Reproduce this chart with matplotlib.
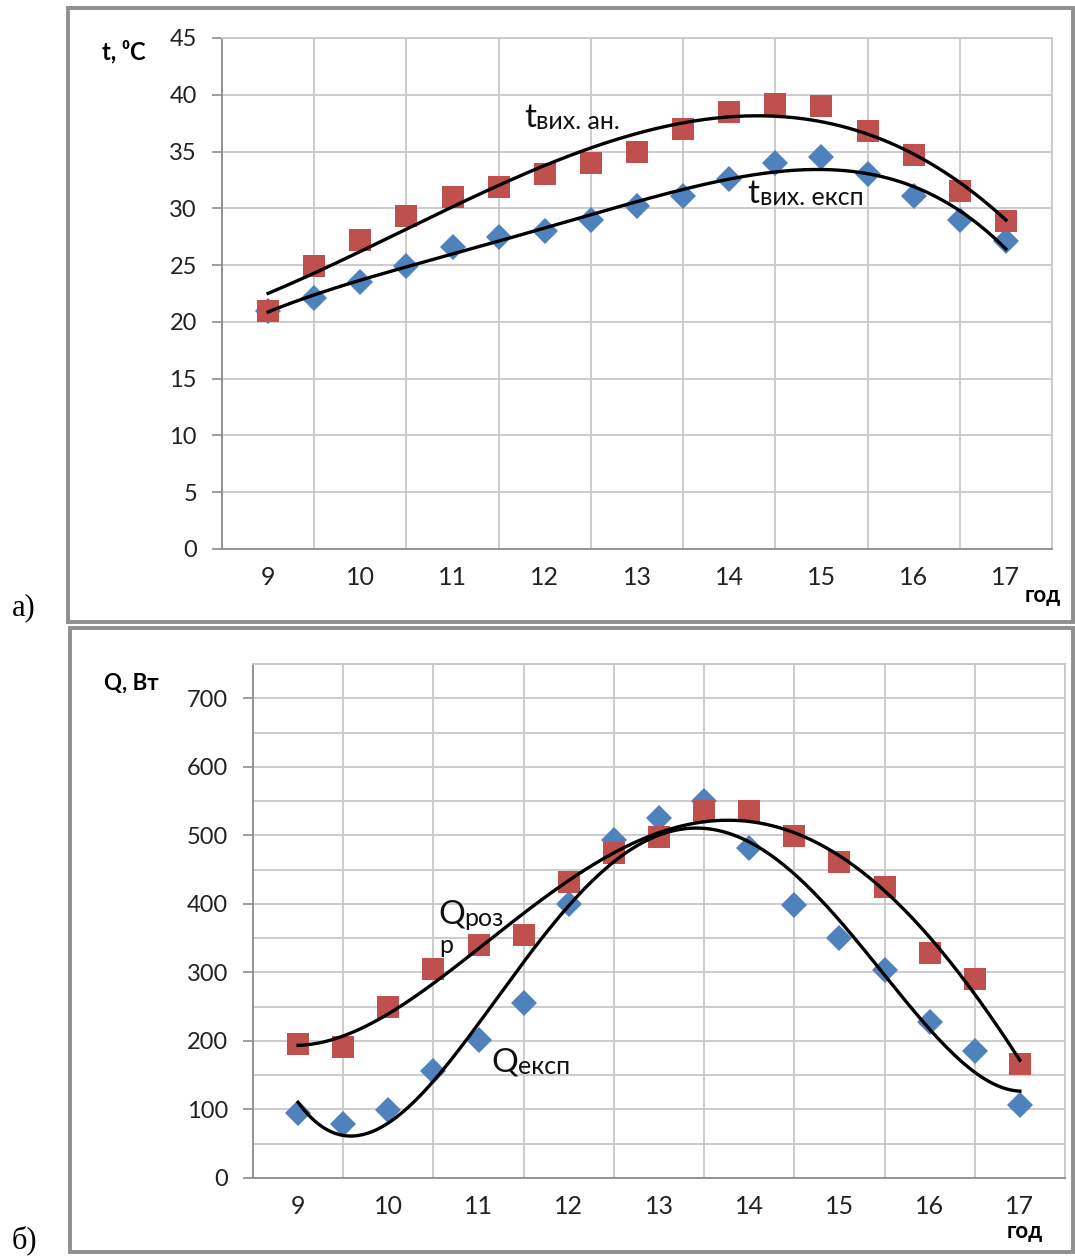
import numpy as np
import matplotlib.pyplot as plt
from matplotlib.patches import Rectangle
from matplotlib.ticker import MultipleLocator

# hours of the day, every half hour
hours = np.arange(9, 17.01, 0.5)
hour_labels = ['9', '10', '11', '12', '13', '14', '15', '16', '17']

# a) outlet temperature, analytic and experimental
t_an = [21.0, 24.9, 27.2, 29.3, 31.0, 31.9, 33.0, 34.0, 35.0,
        37.0, 38.5, 39.2, 39.0, 36.8, 34.7, 31.5, 28.9]
t_exp = [21.0, 22.1, 23.5, 24.9, 26.6, 27.5, 28.0, 29.0, 30.2,
         31.1, 32.6, 34.0, 34.5, 33.0, 31.1, 29.0, 27.1]

# б) heat output, calculated and experimental
q_rozr = [196, 191, 250, 305, 340, 355, 432, 474, 498,
          536, 536, 499, 461, 424, 328, 290, 167]
q_exp = [95, 79, 99, 156, 201, 256, 400, 493, 526,
         550, 481, 398, 350, 304, 228, 186, 106]

RED = '#C0504D'
BLUE = '#4F81BD'
W, H = 1075, 1256
SANS = ['Lato', 'DejaVu Sans']

plt.rcParams['font.family'] = SANS

fig = plt.figure(figsize=(W / 100, H / 100), dpi=100)


def px_rect(x0, y0, x1, y1):
    return [x0 / W, 1 - y1 / H, (x1 - x0) / W, (y1 - y0) / H]


def trend(x, y, deg):
    # polynomial trend line like the spreadsheet one
    xc = np.asarray(x) - 13
    p = np.polyfit(xc, y, deg)
    xs = np.linspace(x[0], x[-1], 300)
    return xs, np.polyval(p, xs - 13)


def style_axes(ax, ylim, ymajor, yminor=None):
    ax.set_xlim(8.5, 17.5)
    ax.set_ylim(*ylim)
    ax.set_xticks(range(9, 18))
    ax.set_xticklabels(hour_labels)
    ax.xaxis.set_minor_locator(MultipleLocator(0.5))
    ax.yaxis.set_major_locator(MultipleLocator(ymajor))
    if yminor:
        ax.yaxis.set_minor_locator(MultipleLocator(yminor))
        ax.grid(which='minor', axis='y', color='#c8c8c8', lw=1.3)
    ax.grid(which='minor', axis='x', color='#c8c8c8', lw=1.3)
    ax.grid(which='major', axis='y', color='#c8c8c8', lw=1.3)
    ax.set_axisbelow(True)
    ax.tick_params(axis='x', which='both', length=0, labelsize=18, pad=12, colors='#222222')
    ax.tick_params(axis='y', which='major', length=7, width=1.2, color='#8c8c8c',
                   labelsize=17, pad=11, labelcolor='#222222')
    ax.tick_params(axis='y', which='minor', length=0)
    for s in ax.spines.values():
        s.set_color('#c8c8c8')
        s.set_linewidth(1.3)
    ax.spines['left'].set_color('#8c8c8c')
    ax.spines['bottom'].set_color('#8c8c8c')


def sub_label(ax, x, y, big, small, bsize, ssize):
    t = ax.text(x, y, big, fontsize=bsize, va='bottom', ha='left', color='#111111')
    ax.annotate(small, xy=(1, 0), xycoords=t, va='bottom', ha='left',
                fontsize=ssize, color='#111111')


# frames round the two panels
for r in [(68, 8, 1073, 622), (70, 628, 1073, 1252)]:
    fig.add_artist(Rectangle((r[0] / W, 1 - r[3] / H), (r[2] - r[0]) / W, (r[3] - r[1]) / H,
                             transform=fig.transFigure, fill=False, ec='#8f8f8f', lw=2.8))

# ---- a) temperature ----
ax1 = fig.add_axes(px_rect(222, 38, 1052, 549))
style_axes(ax1, (0, 45), 5)
xs, ys = trend(hours, t_an, 3)
ax1.plot(xs, ys, color='black', lw=2.4, zorder=4)
xs, ys = trend(hours, t_exp, 4)
ax1.plot(xs, ys, color='black', lw=2.4, zorder=4)
ax1.plot(hours, t_exp, 'D', color=BLUE, ms=13, mew=0, zorder=3)
ax1.plot(hours, t_an, 's', color=RED, ms=16, mew=0, zorder=3)
sub_label(ax1, 11.78, 36.6, 't', 'вих. ан.', 24, 18)
sub_label(ax1, 14.2, 29.9, 't', 'вих. експ', 24, 18)

fig.text(102 / W, 1 - 52 / H, 't, ⁰C', fontsize=17, fontweight='bold', va='center', ha='left')
fig.text(1043 / W, 1 - 596 / H, 'год', fontsize=16, fontweight='bold', va='center', ha='center')
fig.text(12 / W, 1 - 608 / H, 'а)', fontsize=22, family='Liberation Serif', va='center', ha='left')

# ---- б) heat ----
ax2 = fig.add_axes(px_rect(253, 664, 1065, 1178))
style_axes(ax2, (0, 750), 100, 50)
ax2.set_yticks(range(0, 701, 100))
xs, ys = trend(hours, q_rozr, 4)
ax2.plot(xs, ys, color='black', lw=2.4, zorder=4)
xs, ys = trend(hours, q_exp, 4)
ax2.plot(xs, ys, color='black', lw=2.4, zorder=4)
ax2.plot(hours, q_exp, 'D', color=BLUE, ms=13, mew=0, zorder=3)
ax2.plot(hours, q_rozr, 's', color=RED, ms=16, mew=0, zorder=3)
sub_label(ax2, 10.55, 362, 'Q', 'роз', 24, 18)
ax2.text(10.56, 328, 'р', fontsize=18, va='baseline', ha='left', color='#111111')
sub_label(ax2, 11.14, 146, 'Q', 'експ', 24, 18)

fig.text(104 / W, 1 - 683 / H, 'Q, Вт', fontsize=16, fontweight='bold', va='center', ha='left')
fig.text(1025 / W, 1 - 1232 / H, 'год', fontsize=16, fontweight='bold', va='center', ha='center')
fig.text(12 / W, 1 - 1240 / H, 'б)', fontsize=22, family='Liberation Serif', va='center', ha='left')

fig.savefig('out.png', dpi=100, facecolor='white')
